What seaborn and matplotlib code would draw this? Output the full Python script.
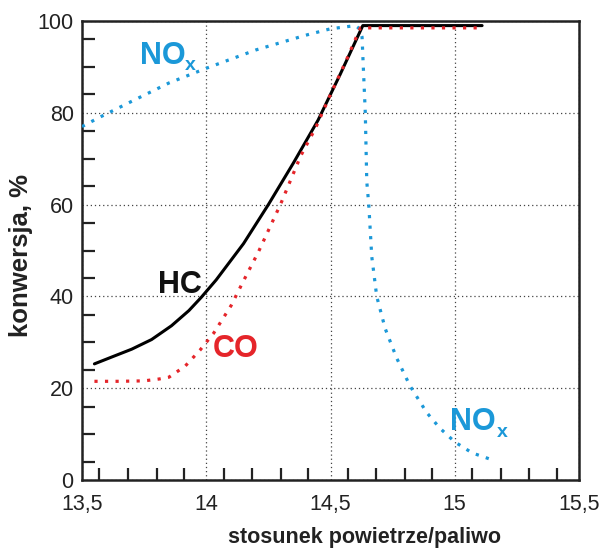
import matplotlib
matplotlib.use("Agg")
import matplotlib.pyplot as plt
import seaborn as sns
import numpy as np

# ---- data ----
hc_x = [13.55, 13.62, 13.70, 13.78, 13.86, 13.93, 13.98, 14.04, 14.15, 14.25, 14.35, 14.45, 14.54, 14.63, 15.11]
hc_y = [25.3, 26.8, 28.5, 30.6, 33.6, 36.9, 39.8, 43.6, 51.5, 60.0, 69.0, 78.4, 88.5, 99.0, 99.0]

co_x = [13.55, 13.65, 13.75, 13.81, 13.85, 13.915, 13.975, 14.03, 14.10, 14.15, 14.21, 14.30, 14.38, 14.44, 14.50, 14.56, 14.62, 15.11]
co_y = [21.5, 21.5, 21.6, 22.0, 22.4, 24.8, 28.3, 32.0, 38.0, 43.4, 49.7, 60.2, 70.6, 76.7, 84.0, 91.0, 98.5, 98.5]

nox_x = [13.50, 13.57, 13.70, 13.85, 14.00, 14.20, 14.40, 14.50, 14.60, 14.615, 14.627, 14.632, 14.64,
         14.646, 14.654, 14.666, 14.686, 14.72, 14.766, 14.82, 14.887, 14.94, 15.00, 15.07, 15.15]
nox_y = [77.0, 79.0, 82.5, 86.5, 89.7, 93.7, 96.9, 98.3, 99.0, 98.4, 96.5, 90.0, 80.0,
         65.0, 60.0, 48.7, 40.0, 33.0, 26.6, 20.5, 14.7, 11.3, 8.3, 5.9, 4.4]

x_ticks = [13.5, 14.0, 14.5, 15.0, 15.5]
x_tick_labels = ["13,5", "14", "14,5", "15", "15,5"]
y_ticks = [0, 20, 40, 60, 80, 100]

BLUE = "#1b98d8"
RED = "#e5252a"

sns.set_style("white")
plt.rcParams["font.family"] = ["Liberation Sans", "DejaVu Sans"]

fig = plt.figure(figsize=(6.0, 5.48), dpi=100)
ax = fig.add_axes([82 / 600, 68 / 548, 497 / 600, 459 / 548])

dot = (0, (1, 2.3))
sns.lineplot(x=nox_x, y=nox_y, ax=ax, color=BLUE, lw=2.3, linestyle=dot,
             estimator=None, sort=False, zorder=3)
sns.lineplot(x=co_x, y=co_y, ax=ax, color=RED, lw=2.3, linestyle=dot,
             estimator=None, sort=False, zorder=4)
sns.lineplot(x=hc_x, y=hc_y, ax=ax, color="black", lw=2.2,
             estimator=None, sort=False, zorder=3)

ax.set_xlim(13.5, 15.5)
ax.set_ylim(0, 100)
ax.set_xticks(x_ticks)
ax.set_xticklabels(x_tick_labels)
ax.set_yticks(y_ticks)

# minor (unlabelled) inward ticks
x_minor = [b + o for b in [13.5, 14.0, 14.5, 15.0] for o in [0.07, 0.185, 0.30, 0.41]]
y_minor = [b + o for b in [0, 20, 40, 60, 80] for o in [4, 10, 16]]
ax.set_xticks(x_minor, minor=True)
ax.set_yticks(y_minor, minor=True)

ax.tick_params(axis="both", which="major", length=0, labelsize=15.5, labelcolor="#222222")
ax.tick_params(axis="x", which="major", pad=10)
ax.tick_params(axis="y", which="major", pad=6)
ax.tick_params(axis="both", which="minor", direction="in", length=9, width=1.6, color="#222222")
ax.tick_params(left=True, bottom=True, which="minor")

ax.grid(True, which="major", color="#444444", linestyle=(0, (1, 2.3)), linewidth=0.9)
for s in ax.spines.values():
    s.set_visible(True)
    s.set_linewidth(1.8)
    s.set_color("#222222")

ax.set_xlabel("stosunek powietrze/paliwo", fontsize=15.5, fontweight="bold", color="#222222")
ax.xaxis.label.set_va("baseline")
ax.xaxis.set_label_coords(0.568, -0.137)
ax.set_ylabel("konwersja, %", fontsize=18.5, fontweight="bold", color="#222222")
ax.yaxis.set_label_coords(-0.098, 0.489)

# series labels
ax.text(13.733, 90.6, "NO", color=BLUE, fontsize=22, fontweight="bold", ha="left", va="baseline")
ax.text(13.914, 89.3, "x", color=BLUE, fontsize=14, fontweight="bold", ha="left", va="baseline")
ax.text(14.981, 10.9, "NO", color=BLUE, fontsize=22, fontweight="bold", ha="left", va="baseline")
ax.text(15.17, 9.4, "x", color=BLUE, fontsize=14, fontweight="bold", ha="left", va="baseline")
ax.text(13.806, 40.8, "HC", color="#111111", fontsize=22, fontweight="bold", ha="left", va="baseline")
ax.text(14.027, 26.8, "CO", color=RED, fontsize=22, fontweight="bold", ha="left", va="baseline")

fig.savefig("out.png", dpi=100)
